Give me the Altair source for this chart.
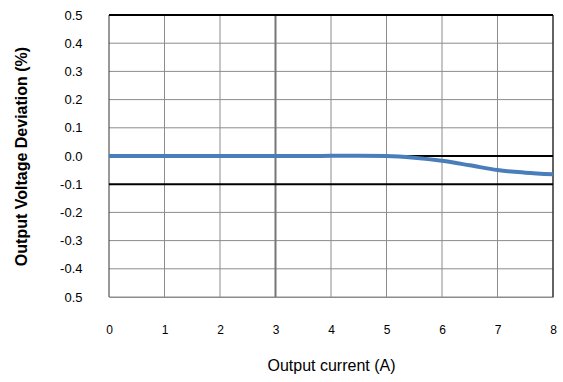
import altair as alt
import pandas as pd

# Load regulation: output voltage deviation vs. output current
current_a = [0, 0.5, 1, 1.5, 2, 2.5, 3, 3.5, 4, 4.5, 5, 5.5, 6, 6.5, 7, 7.5, 8]
deviation_pct = [0, 0, 0, 0, 0, 0, 0, 0, 0.0005, 0.001, 0.0, -0.006, -0.017, -0.033, -0.05, -0.059, -0.065]

y_ticks = [0.5, 0.4, 0.3, 0.2, 0.1, 0.0, -0.1, -0.2, -0.3, -0.4, -0.5]
x_ticks = [0, 1, 2, 3, 4, 5, 6, 7, 8]
heavy_lines = [0.5, 0.0, -0.1]

df = pd.DataFrame({"current": current_a, "deviation": deviation_pct})

x_scale = alt.Scale(domain=[0, 8], nice=False)
y_scale = alt.Scale(domain=[-0.5, 0.5], nice=False)

FONT = "Liberation Sans"

x_axis = alt.Axis(
    values=x_ticks,
    format="d",
    title="Output current (A)",
    titleFont=FONT,
    titleFontSize=16,
    titleFontWeight="normal",
    titleColor="#000000",
    titlePadding=22,
    labelFont=FONT,
    labelFontSize=12,
    labelColor="#000000",
    labelPadding=27,
    labelOverlap=False,
    ticks=False,
    domainColor="#8c8c8c",
    grid=False,
    labelFlush=False,
)

y_axis = alt.Axis(
    values=y_ticks,
    labelExpr="datum.value == -0.5 ? '0.5' : replace(format(datum.value, '.1f'), '\u2212', '-')",
    title="Output Voltage Deviation (%)",
    titleFont=FONT,
    titleFontSize=16,
    titleFontWeight="bold",
    titleColor="#000000",
    titlePadding=30,
    labelFont=FONT,
    labelFontSize=13,
    labelColor="#000000",
    labelPadding=27,
    labelOverlap=False,
    ticks=False,
    domain=False,
    grid=False,
)


def hrule(values, color, width):
    return alt.Chart(pd.DataFrame({"v": values})).mark_rule(
        color=color, strokeWidth=width
    ).encode(y=alt.Y("v:Q", scale=y_scale, axis=y_axis, title="Output Voltage Deviation (%)"))


def vrule(values, color, width):
    return alt.Chart(pd.DataFrame({"v": values})).mark_rule(
        color=color, strokeWidth=width
    ).encode(x=alt.X("v:Q", scale=x_scale, axis=x_axis, title="Output current (A)"))


h_grid = hrule([t for t in y_ticks if t not in heavy_lines], "#8c8c8c", 1)
v_grid = vrule(x_ticks[1:], "#8c8c8c", 1)
v_mid = vrule([3], "#777777", 2)
left_edge = vrule([0], "#333333", 1)
right_edge = vrule([8], "#000000", 1)
h_heavy = hrule(heavy_lines, "#000000", 2)

line = alt.Chart(df).mark_line(color="#4a7ebb", strokeWidth=4, interpolate="monotone").encode(
    x=alt.X("current:Q", scale=x_scale, axis=x_axis, title="Output current (A)"),
    y=alt.Y("deviation:Q", scale=y_scale, axis=y_axis, title="Output Voltage Deviation (%)"),
)

chart = (
    alt.layer(h_grid, v_grid, v_mid, left_edge, right_edge, h_heavy, line)
    .properties(
        width=444,
        height=282,
        background="#ffffff",
        autosize=alt.AutoSizeParams(type="none"),
        padding={"left": 109, "top": 15, "right": 10, "bottom": 85},
    )
    .configure_view(stroke=None)
)

chart.save("out.html", embed_options={"renderer": "svg", "actions": False})
